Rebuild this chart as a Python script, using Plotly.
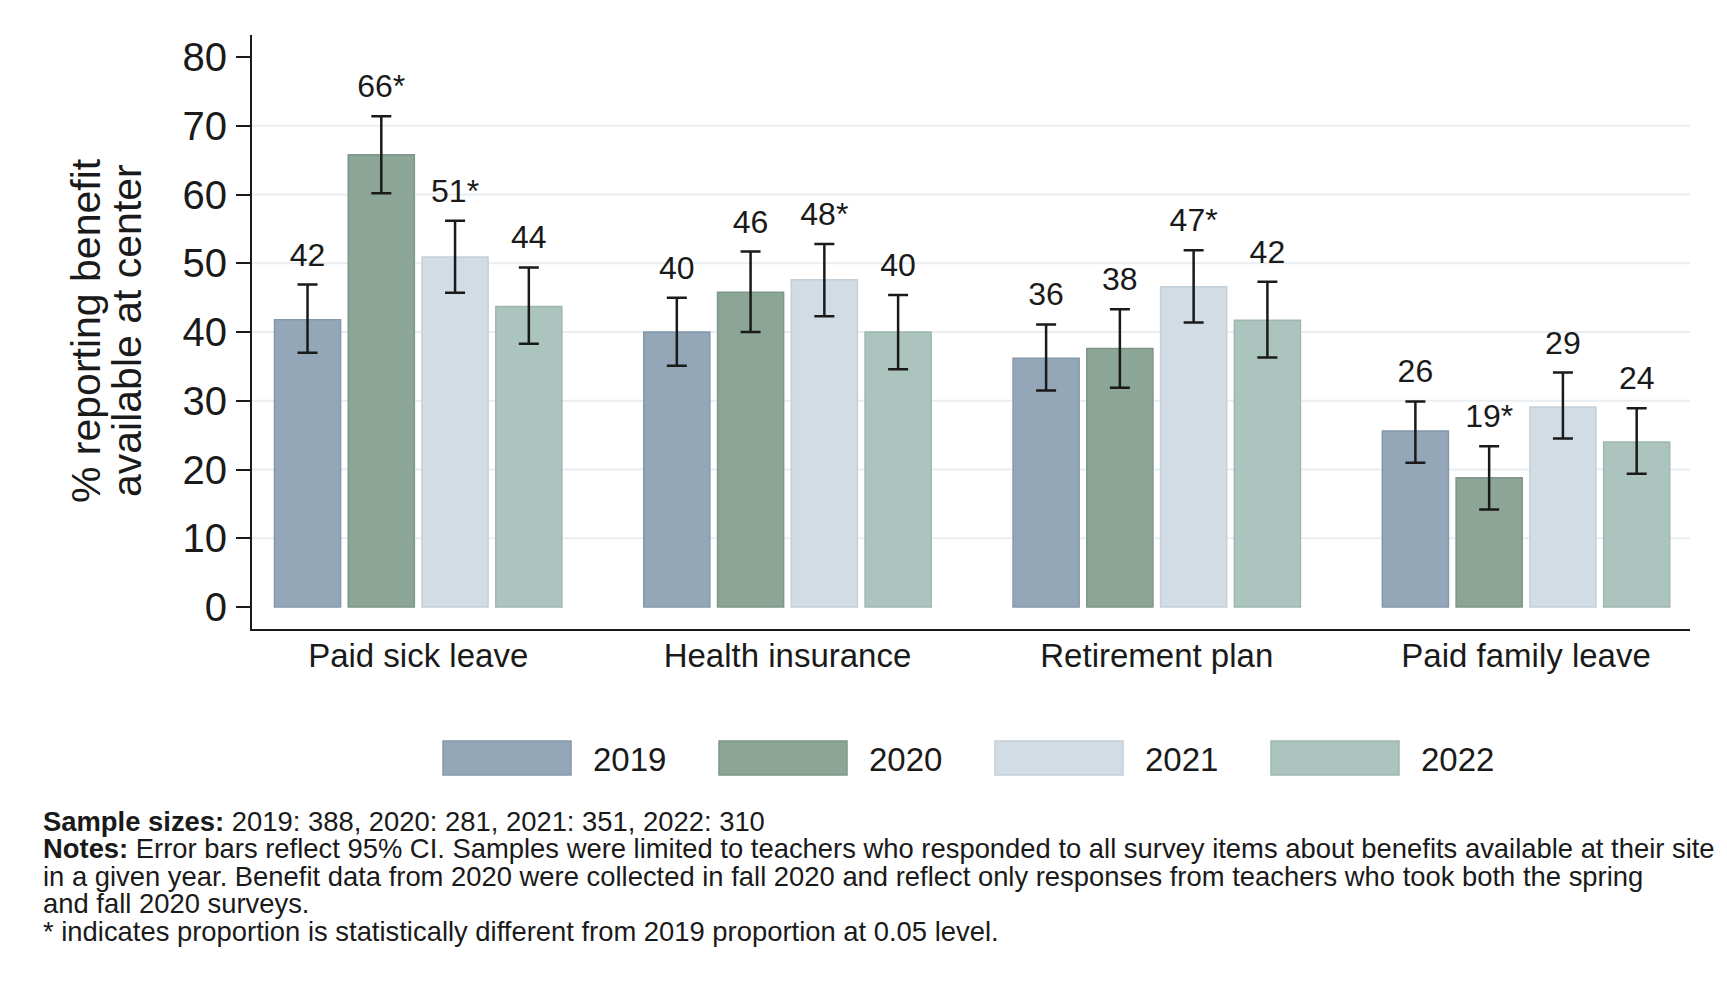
import plotly.graph_objects as go

# ---- data -------------------------------------------------------------
categories = ["Paid sick leave", "Health insurance", "Retirement plan", "Paid family leave"]
years = ["2019", "2020", "2021", "2022"]

pct_2019 = [41.8, 40.0, 36.2, 25.6]
pct_2020 = [65.8, 45.8, 37.6, 18.8]
pct_2021 = [50.9, 47.6, 46.6, 29.1]
pct_2022 = [43.7, 40.0, 41.7, 24.0]

ci_low_2019 = [37.0, 35.1, 31.5, 21.0]
ci_high_2019 = [46.9, 45.0, 41.1, 29.9]
ci_low_2020 = [60.2, 40.0, 31.9, 14.2]
ci_high_2020 = [71.4, 51.7, 43.3, 23.4]
ci_low_2021 = [45.7, 42.3, 41.4, 24.5]
ci_high_2021 = [56.2, 52.8, 51.9, 34.1]
ci_low_2022 = [38.3, 34.6, 36.3, 19.4]
ci_high_2022 = [49.4, 45.4, 47.3, 28.9]

# significant difference from 2019 (marked with *)
sig_2019 = [False, False, False, False]
sig_2020 = [True, False, False, True]
sig_2021 = [True, True, True, False]
sig_2022 = [False, False, False, False]

y_ticks = [0, 10, 20, 30, 40, 50, 60, 70, 80]
grid_values = [10, 20, 30, 40, 50, 60, 70]

notes_lines = [
    "<b>Sample sizes:</b> 2019: 388, 2020: 281, 2021: 351, 2022: 310",
    "<b>Notes:</b> Error bars reflect 95% CI. Samples were limited to teachers who responded to all survey items about benefits available at their site",
    "in a given year. Benefit data from 2020 were collected in fall 2020 and reflect only responses from teachers who took both the spring",
    "and fall 2020 surveys.",
    "* indicates proportion is statistically different from 2019 proportion at 0.05 level.",
]

series = [
    (years[0], pct_2019, ci_low_2019, ci_high_2019, sig_2019),
    (years[1], pct_2020, ci_low_2020, ci_high_2020, sig_2020),
    (years[2], pct_2021, ci_low_2021, ci_high_2021, sig_2021),
    (years[3], pct_2022, ci_low_2022, ci_high_2022, sig_2022),
]

# ---- styling ----------------------------------------------------------
FONT = "Liberation Sans, Arial, sans-serif"
INK = "#1a1a1a"
fills = ["#94a7b8", "#8ba597", "#d1dce4", "#acc4be"]
edges = ["#8598aa", "#7d9689", "#c3cfd9", "#9fb7b1"]

W, H = 1727, 986
ML, MR, MT, MB = 252, 37, 35, 357
PW, PH = W - ML - MR, H - MT - MB


def px(x):
    """Horizontal pixel -> paper fraction."""
    return (x - ML) / PW


def py(y):
    """Vertical pixel (from top) -> paper fraction."""
    return (H - MB - y) / PH


BARGAP = 0.201
x_pos = list(range(len(categories)))

fig = go.Figure()

for i, (yr, vals, lo, hi, sig) in enumerate(series):
    fig.add_trace(go.Bar(
        x=x_pos, y=vals, name=yr, offsetgroup=yr,
        marker=dict(color=fills[i], line=dict(color=edges[i], width=1.5)),
        error_y=dict(
            type="data", symmetric=False,
            array=[h - v for h, v in zip(hi, vals)],
            arrayminus=[v - l for v, l in zip(vals, lo)],
            color=INK, thickness=2.5, width=10,
        ),
        showlegend=False, hoverinfo="skip",
    ))

for i, (yr, vals, lo, hi, sig) in enumerate(series):
    labels = [f"{round(v)}" + ("*" if s else "") for v, s in zip(vals, sig)]
    fig.add_trace(go.Scatter(
        x=x_pos, y=hi, mode="markers+text", offsetgroup=yr,
        text=labels, textposition="top center",
        textfont=dict(family=FONT, size=32, color=INK),
        marker=dict(size=16, opacity=0),
        showlegend=False, hoverinfo="skip", cliponaxis=False,
    ))

for g in grid_values:
    fig.add_hline(y=g, line_color="#e8eef1", line_width=2, layer="below")

# legend swatches and labels
legend_x0 = 443
legend_step = 276
for i, yr in enumerate(years):
    x0 = legend_x0 + i * legend_step
    fig.add_shape(
        type="rect", xref="paper", yref="paper",
        x0=px(x0), x1=px(x0 + 128), y0=py(741), y1=py(775),
        fillcolor=fills[i], line=dict(color=edges[i], width=1.5),
    )
    fig.add_annotation(
        xref="paper", yref="paper", x=px(x0 + 148), y=py(759),
        xanchor="left", yanchor="middle", showarrow=False,
        text=yr, font=dict(family=FONT, size=33, color=INK),
    )

# y-axis title in two lines
for txt, xc in [("% reporting benefit", 86), ("available at center", 127)]:
    fig.add_annotation(
        xref="paper", yref="paper", x=px(xc), y=py(331),
        xanchor="center", yanchor="middle", showarrow=False, textangle=-90,
        text=txt, font=dict(family=FONT, size=41, color=INK),
    )

# notes block
for j, line in enumerate(notes_lines):
    fig.add_annotation(
        xref="paper", yref="paper", x=px(42), y=py(821 + j * 27.6),
        xanchor="left", yanchor="middle", showarrow=False, align="left",
        borderpad=0,
        text=line, font=dict(family=FONT, size=27.4, color=INK),
    )

fig.update_layout(
    width=W, height=H,
    margin=dict(l=ML, r=MR, t=MT, b=MB, pad=0),
    paper_bgcolor="white", plot_bgcolor="white",
    barmode="group", bargap=BARGAP, bargroupgap=0.104,
    scattermode="group", scattergap=BARGAP,
    font=dict(family=FONT, color=INK),
    xaxis=dict(
        range=[-0.45, 3.444], tickvals=x_pos, ticktext=categories,
        showline=True, linecolor=INK, linewidth=2, ticks="",
        tickfont=dict(size=33, color=INK), showgrid=False, zeroline=False,
        ticklabelstandoff=-4,
    ),
    yaxis=dict(
        range=[-3.2, 83.2], tickvals=y_ticks,
        showline=True, linecolor=INK, linewidth=2,
        ticks="outside", ticklen=14, tickwidth=2, tickcolor=INK,
        tickfont=dict(size=40, color=INK), showgrid=False, zeroline=False,
        ticklabelstandoff=1,
    ),
    showlegend=False,
)

fig.write_html("out.html")
